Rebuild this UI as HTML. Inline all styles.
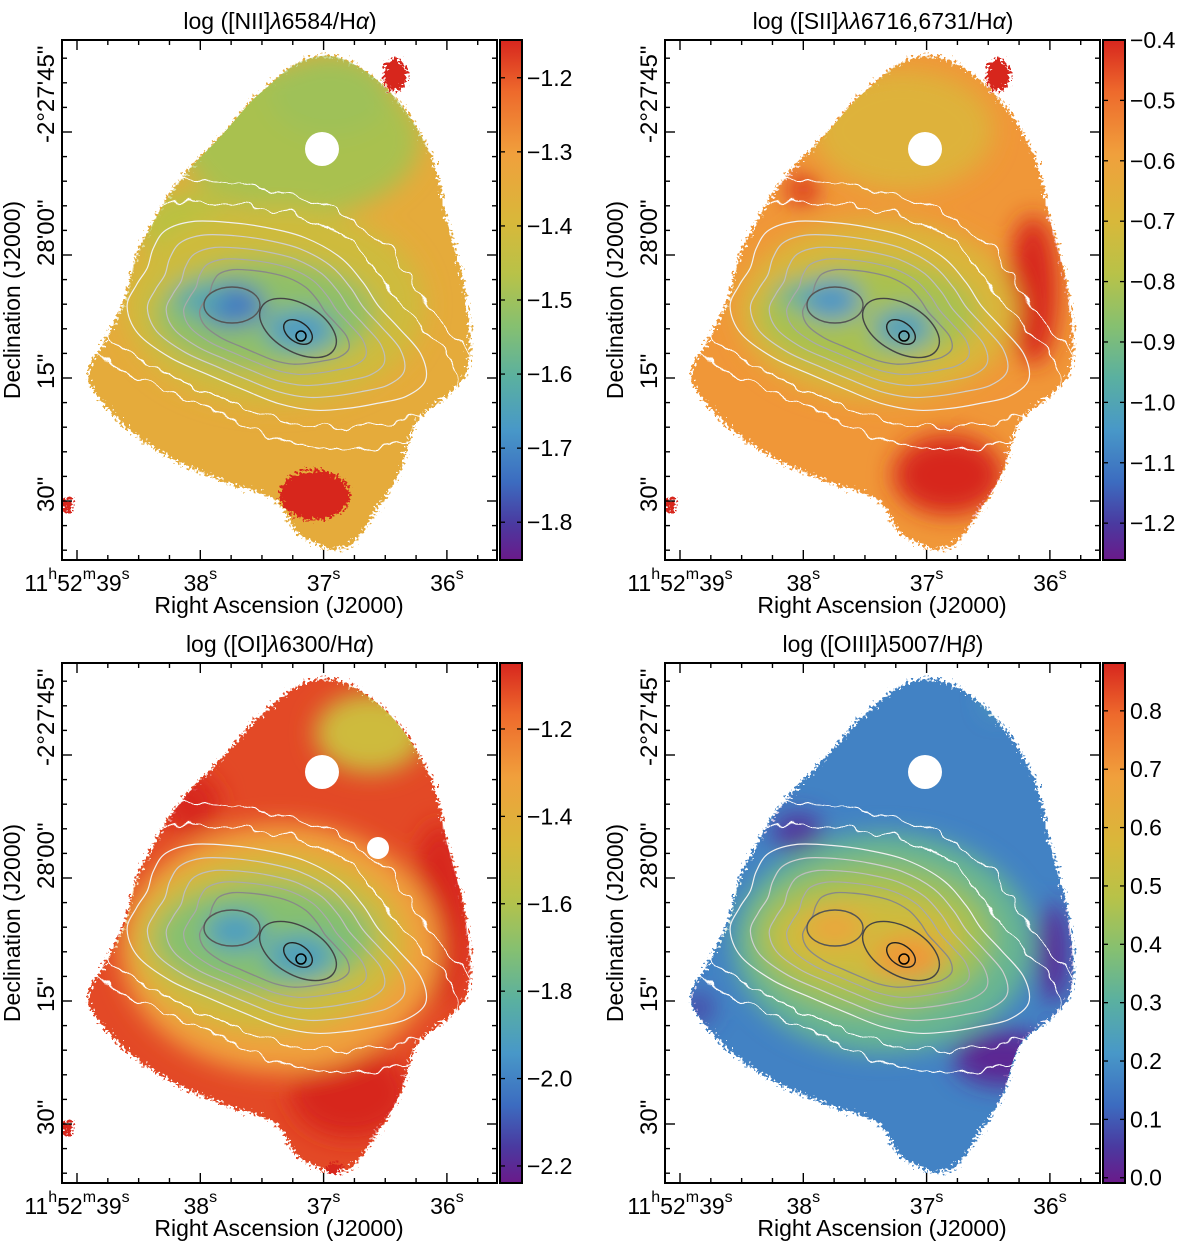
<!DOCTYPE html>
<html><head><meta charset="utf-8">
<style>
html,body{margin:0;padding:0;background:#fff;}
svg{display:block;font-family:"Liberation Sans",Arial,sans-serif;}
</style></head>
<body>
<svg id="fig" width="1200" height="1244" viewBox="0 0 1200 1244" xmlns="http://www.w3.org/2000/svg">
<defs>
<linearGradient id="cmap" x1="0" y1="1" x2="0" y2="0">
<stop offset="0" stop-color="#6a1a8a"/><stop offset="0.07" stop-color="#4a3aa0"/>
<stop offset="0.15" stop-color="#3c6cc0"/><stop offset="0.25" stop-color="#4898c8"/>
<stop offset="0.35" stop-color="#5ab0a0"/><stop offset="0.45" stop-color="#86c070"/>
<stop offset="0.55" stop-color="#b8c248"/><stop offset="0.65" stop-color="#d8b83a"/>
<stop offset="0.78" stop-color="#f0a03c"/><stop offset="0.9" stop-color="#ee6a2c"/>
<stop offset="1" stop-color="#d7261e"/>
</linearGradient>
<filter id="blur" x="-50%" y="-50%" width="200%" height="200%"><feGaussianBlur stdDeviation="12"/></filter>
<filter id="rag" x="-10%" y="-10%" width="120%" height="120%">
<feTurbulence type="fractalNoise" baseFrequency="0.35" numOctaves="2" seed="3" result="n"/>
<feDisplacementMap in="SourceGraphic" in2="n" scale="16" xChannelSelector="R" yChannelSelector="G"/>
</filter>
<filter id="wig" x="-10%" y="-10%" width="120%" height="120%">
<feTurbulence type="fractalNoise" baseFrequency="0.05" numOctaves="2" seed="7" result="n"/>
<feDisplacementMap in="SourceGraphic" in2="n" scale="16" xChannelSelector="R" yChannelSelector="G"/>
</filter>
</defs>
</svg>
<script>
// ---- data arrays ----
const titles = ['log ([NII]<tspan font-style="italic">λ</tspan>6584/H<tspan font-style="italic">α</tspan>)',
 'log ([SII]<tspan font-style="italic">λλ</tspan>6716,6731/H<tspan font-style="italic">α</tspan>)',
 'log ([OI]<tspan font-style="italic">λ</tspan>6300/H<tspan font-style="italic">α</tspan>)',
 'log ([OIII]<tspan font-style="italic">λ</tspan>5007/H<tspan font-style="italic">β</tspan>)'];
const cbMin = [-1.851, -1.261, -2.239, -0.009];
const cbMax = [-1.149, -0.400, -1.049, 0.882];
const cbTicks1 = [-1.2,-1.3,-1.4,-1.5,-1.6,-1.7,-1.8];
const cbTicks2 = [-0.4,-0.5,-0.6,-0.7,-0.8,-0.9,-1.0,-1.1,-1.2];
const cbTicks3 = [-1.2,-1.4,-1.6,-1.8,-2.0,-2.2];
const cbTicks4 = [0.8,0.7,0.6,0.5,0.4,0.3,0.2,0.1,0.0];
const raTicks = [39,38,37,36];
const decTicks = [45,60,75,90];
const decLabels = ['-2°27\'45"','28\'00"','15"','30"'];
// map regions per panel: [cx, cy, rx, ry, normalised value]
const blobs1 = [[300,140,120,75,0.52],[330,95,60,40,0.5],[190,230,50,40,0.55],[275,305,150,100,0.62],[265,315,110,55,0.47],[230,305,35,22,0.18],[300,330,35,20,0.26],[200,300,25,15,0.3]];
const blobs2 = [[300,130,90,60,0.68],[430,290,25,75,1],[345,475,55,40,1],[200,190,15,15,1],[275,310,140,90,0.66],[265,315,110,55,0.52],[228,300,30,20,0.24],[300,328,30,20,0.28],[190,295,15,12,0.35]];
const blobs3 = [[370,110,55,40,0.62],[440,290,30,90,1],[350,470,60,45,1],[190,180,30,30,1],[280,325,160,125,0.78],[270,320,135,90,0.62],[265,315,110,55,0.45],[235,308,30,20,0.27],[300,333,35,22,0.28]];
const blobs4 = [[395,75,12,16,0.3],[450,330,15,50,0.03],[400,435,50,28,0.03],[195,210,25,20,0.05],[95,385,15,15,0.08],[280,320,150,110,0.38],[270,315,120,75,0.5],[265,315,95,45,0.62],[232,305,30,18,0.75],[305,335,35,22,0.8]];
const baseVal = [0.72, 0.8, 0.95, 0.2];
const spots = [[[395,75,12,16,1],[315,495,35,25,1],[68,505,6,7,1]],[[395,75,12,16,1],[68,505,6,7,1]],[[68,505,6,7,1],[335,545,8,6,1]],[]];

const stops=[[0,'#6a1a8a'],[0.07,'#4a3aa0'],[0.15,'#3c6cc0'],[0.25,'#4898c8'],[0.35,'#5ab0a0'],[0.45,'#86c070'],[0.55,'#b8c242'],[0.65,'#d8b83a'],[0.78,'#f0a03c'],[0.9,'#ee6a2c'],[1,'#d7261e']];
function hx(c){return [1,3,5].map(i=>parseInt(c.substr(i,2),16));}
function cmap(t){t=Math.max(0,Math.min(1,t));for(let i=1;i<stops.length;i++){if(t<=stops[i][0]){const a=stops[i-1],b=stops[i];const f=(t-a[0])/(b[0]-a[0]);const A=hx(a[1]),B=hx(b[1]);return 'rgb('+A.map((v,k)=>Math.round(v+(B[k]-v)*f)).join(',')+')';}}return stops[stops.length-1][1];}

const svg=document.getElementById('fig');
const NS='http://www.w3.org/2000/svg';
function el(tag,attrs,parent){const e=document.createElementNS(NS,tag);for(const k in attrs)e.setAttribute(k,attrs[k]);(parent||svg).appendChild(e);return e;}

const outer=[[264,90],[300,62],[340,58],[390,92],[430,153],[447,220],[464,287],[470,353],[457,387],[418,420],[400,470],[380,505],[345,548],[300,535],[275,500],[225,482],[175,460],[135,435],[105,405],[88,375],[105,340],[125,300],[135,260],[152,225],[180,180],[222,135],[248,105]];
function smooth(pts){let d='';const n=pts.length;for(let i=0;i<n;i++){const p0=pts[(i-1+n)%n],p1=pts[i],p2=pts[(i+1)%n],p3=pts[(i+2)%n];if(i===0)d+='M'+p1[0].toFixed(1)+','+p1[1].toFixed(1);d+=' C'+(p1[0]+(p2[0]-p0[0])/6).toFixed(1)+','+(p1[1]+(p2[1]-p0[1])/6).toFixed(1)+' '+(p2[0]-(p3[0]-p1[0])/6).toFixed(1)+','+(p2[1]-(p3[1]-p1[1])/6).toFixed(1)+' '+p2[0].toFixed(1)+','+p2[1].toFixed(1);}return d+'Z';}
function contour(s,cx,cy){const pts=[];const a=150,b=82,rot=22*Math.PI/180;for(let i=0;i<24;i++){const th=i/24*2*Math.PI;const r=(1+0.07*Math.sin(3*th+1)+0.05*Math.sin(5*th+2));const x=a*s*Math.cos(th)*r,y=b*s*Math.sin(th)*r;pts.push([cx+x*Math.cos(rot)-y*Math.sin(rot),cy+x*Math.sin(rot)+y*Math.cos(rot)]);}return smooth(pts);}

const X0=[0,603,0,603], Y0=[0,0,623,623];
const cbT=[cbTicks1,cbTicks2,cbTicks3,cbTicks4];
const blobSets=[blobs1,blobs2,blobs3,blobs4];
const names=['nii-ha','sii-ha','oi-ha','oiii-hb'];
function raX(s){return 77+(39-s)*123.3;}
function decY(a){return 132+(a-45)/15*123;}

for(let p=0;p<4;p++){
  const g=el('g',{transform:'translate('+X0[p]+','+Y0[p]+')'});
  
  
  const cid='clip'+p;
  const cp=el('clipPath',{id:cid},g);el('path',{d:smooth(outer)},cp);
  const fc=el('clipPath',{id:'fr'+p},g);el('rect',{x:62,y:40,width:435,height:520},fc);
  const map=el('g',{'clip-path':'url(#fr'+p+')'},g);
  
  
  el('path',{d:smooth(outer),fill:cmap(baseVal[p]),filter:'url(#rag)'},map);
  const bg=el('g',{'clip-path':'url(#'+cid+')'},map);
  const bl=el('g',{filter:'url(#blur)'},bg);
  blobSets[p].forEach(b=>{const e=el('ellipse',{cx:b[0],cy:b[1],rx:b[2],ry:b[3],fill:cmap(b[4])},bl);});
  spots[p].forEach(b=>{const e=el('ellipse',{cx:b[0],cy:b[1],rx:b[2],ry:b[3],fill:cmap(b[4]),filter:'url(#rag)'},map);});
  const cg=el('g',{fill:'none'},map);
  
  
  [[1.42,'#ffffff',1.2],[1.2,'#ffffff',1.2],[1.0,'#f0f0f0',1.2],[0.86,'#d0d0d0',1.2],[0.73,'#bdbdbd',1.2],[0.61,'#aaaaaa',1.2],[0.5,'#888',1.3]].forEach(c=>{el('path',{d:contour(c[0],272,318),stroke:c[1],'stroke-width':c[2],filter:c[0]>1.1?'url(#wig)':''},cg);});
  el('ellipse',{cx:232,cy:305,rx:28,ry:18,stroke:'#555','stroke-width':1.4},cg);
  el('ellipse',{cx:298,cy:328,rx:42,ry:24,transform:'rotate(30 298 328)',stroke:'#444','stroke-width':1.4},cg);
  el('ellipse',{cx:298,cy:332,rx:16,ry:10,transform:'rotate(35 298 332)',stroke:'#222','stroke-width':1.4},cg);
  el('circle',{cx:301,cy:336,r:5,stroke:'#000','stroke-width':1.5},cg);
  el('circle',{cx:322,cy:149,r:17,fill:'#fff'},map);
  if(p===2) el('circle',{cx:378,cy:225,r:11,fill:'#fff'},map);
  const fr=el('rect',{x:62,y:40,width:435,height:520,fill:'none',stroke:'#000','stroke-width':2},g);
  
  
  for(let s=40;s>=35.2;s-=0.25){const x=raX(s);if(x<63||x>496)continue;const maj=Math.abs(s-Math.round(s))<1e-6;const L=maj?10:5;el('line',{x1:x,y1:560,x2:x,y2:560-L,stroke:'#000','stroke-width':1.4},g);el('line',{x1:x,y1:40,x2:x,y2:40+L,stroke:'#000','stroke-width':1.4},g);}
  raTicks.forEach((s,i)=>{const t=el('text',{x:raX(s),y:591,'font-size':23,'text-anchor':'middle'},g);
    t.innerHTML=i===0?'11<tspan dy="-12" font-size="16">h</tspan><tspan dy="12">52</tspan><tspan dy="-12" font-size="16">m</tspan><tspan dy="12">'+s+'</tspan><tspan dy="-12" font-size="16">s</tspan>':s+'<tspan dy="-12" font-size="16">s</tspan>';
    });
  for(let a=30;a<=110;a+=3){const y=decY(a);if(y<41||y>559)continue;const maj=(a%15)===0;const L=maj?10:5;el('line',{x1:62,y1:y,x2:62+L,y2:y,stroke:'#000','stroke-width':1.4},g);el('line',{x1:497,y1:y,x2:497-L,y2:y,stroke:'#000','stroke-width':1.4},g);}
  decTicks.forEach((a,i)=>{const y=decY(a)+11;const t=el('text',{x:54,y:y,'font-size':24,transform:'rotate(-90 54 '+y+')'},g);t.textContent=decLabels[i];
    });
  const xt=el('text',{x:279,y:613,'font-size':23,'text-anchor':'middle'},g);xt.textContent='Right Ascension (J2000)';
  
  const yt=el('text',{x:20,y:300,'font-size':23,'text-anchor':'middle',transform:'rotate(-90 20 300)'},g);yt.textContent='Declination (J2000)';
  
  const tt=el('text',{x:280,y:29,'font-size':23,'text-anchor':'middle'},g);tt.innerHTML=titles[p];
  
  const cb=el('rect',{x:500,y:40,width:22,height:520,fill:'url(#cmap)',stroke:'#000','stroke-width':2},g);
  
  const cy=v=>560-(v-cbMin[p])/(cbMax[p]-cbMin[p])*520;
  cbT[p].forEach(v=>{const y=cy(v);el('line',{x1:500,y1:y,x2:505,y2:y,stroke:'#000','stroke-width':1.3},g);el('line',{x1:522,y1:y,x2:517,y2:y,stroke:'#000','stroke-width':1.3},g);
    const t=el('text',{x:527,y:y+8,'font-size':23},g);t.textContent=(v<0?'\u2212':'')+Math.abs(v).toFixed(1);
    });
}
</script>
</body></html>
